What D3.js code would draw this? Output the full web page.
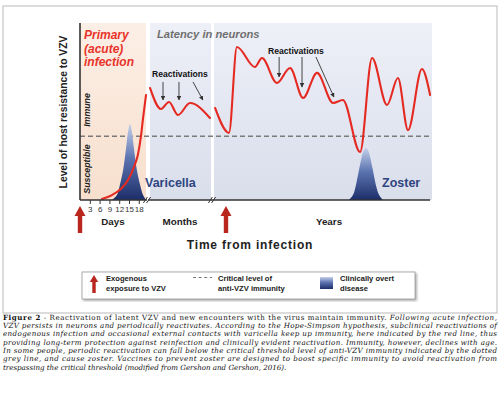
<!DOCTYPE html>
<html>
<head>
<meta charset="utf-8">
<script src="https://cdn.jsdelivr.net/npm/d3@7"></script>
<style>
  body { margin: 0; background: #fff; }
  svg { display: block; font-family: "Liberation Sans", Arial, sans-serif; }
</style>
</head>
<body>
<svg id="chart"></svg>
<script>
// ---- data (time in panel units, level = host resistance 0..100) ----
const dayTicks = [3, 6, 9, 12, 15, 18];
const phaseLabels = ["Days", "Months", "Years"];
const threshold = 36;

const primaryCurve = [[6.7, 0.6], [9.8, 2.8], [12.8, 6.8], [14.7, 11.3], [16.5, 18.6],
  [17.7, 25.4], [18.7, 36.7], [19.3, 46.3], [20.2, 59.3]];
const monthsCurve = [[0, 63.3], [2.16, 51.4], [3.74, 55.4], [5.51, 48.0], [7.87, 54.8], [11.8, 46.3]];
const yearsCurve = [[0.4, 52.0], [5.5, 37.9], [8.4, 86.4], [15.0, 75.1], [17.6, 80.2], [23.1, 66.1],
  [27.9, 74.6], [32.7, 57.6], [37.8, 71.8], [43.7, 54.8], [47.3, 56.5], [53.6, 27.1], [58.0, 80.2],
  [63.5, 53.7], [67.5, 68.9], [71.2, 39.5], [76.3, 74.0], [79.3, 59.3]];

const varicellaBell = [[9.8, 0], [11.3, 2.8], [12.2, 8.5], [13.2, 16.9], [14.1, 29.4], [14.7, 38.4],
  [15.3, 42.9], [15.9, 38.4], [16.5, 29.4], [17.4, 16.9], [18.4, 8.5], [19.3, 2.8], [20.2, 0]];
const zosterBell = [[49.5, 0], [51.0, 2.8], [52.1, 8.5], [53.2, 16.9], [54.3, 24.9], [55.0, 28.2],
  [55.8, 29.4], [56.5, 28.2], [57.2, 24.9], [58.3, 16.9], [59.4, 8.5], [60.6, 2.8], [62.0, 0]];

// reactivation arrows [t0, level0, t1, level1]
const monthArrows = [[2.56, 66.7, 2.56, 56.5], [5.7, 66.7, 5.7, 56.5], [8.46, 66.7, 10.4, 56.5]];
const yearArrows = [[23.9, 80.8, 23.9, 69.5], [32.3, 80.8, 32.3, 63.8], [37.4, 80.8, 44.0, 58.2]];
// exposure arrows: [panel, time]
const exposures = [["days", 0], ["years", 4.4]];

const legendItems = ["Exogenous|exposure to VZV", "Critical level of|anti-VZV immunity", "Clinically overt|disease"];

const captionLines = [
  [["b", "Figure 2"], ["r", " - Reactivation of latent VZV and new encounters with the virus maintain immunity. "], ["i", "Following acute infection,"]],
  [["i", "VZV persists in neurons and periodically reactivates. According to the Hope-Simpson hypothesis, subclinical reactivations of"]],
  [["i", "endogenous infection and occasional external contacts with varicella keep up immunity, here indicated by the red line, thus"]],
  [["i", "providing long-term protection against reinfection and clinically evident reactivation. Immunity, however, declines with age."]],
  [["i", "In some people, periodic reactivation can fall below the critical threshold level of anti-VZV immunity indicated by the dotted"]],
  [["i", "grey line, and cause zoster. Vaccines to prevent zoster are designed to boost specific immunity to avoid reactivation from"]],
  [["i", "trespassing the critical threshold (modified from Gershon and Gershon, 2016)."]]
];

// ---- layout ----
const width = 502, height = 397;
const svg = d3.select("#chart").attr("width", width).attr("height", height);

const y = d3.scaleLinear().domain([0, 100]).range([200, 23]);
const xDay = d3.scaleLinear().domain([0, 20.2]).range([80, 146]);
const xMonth = d3.scaleLinear().domain([0, 12]).range([150, 211]);
const xYear = d3.scaleLinear().domain([0, 80]).range([214, 432]);
const xs = { days: xDay, months: xMonth, years: xYear };

const defs = svg.append("defs");
function vGrad(id, stops) {
  const g = defs.append("linearGradient").attr("id", id).attr("x1", 0).attr("y1", 0).attr("x2", 0).attr("y2", 1);
  stops.forEach(([o, c]) => g.append("stop").attr("offset", o).attr("stop-color", c));
}
vGrad("peach", [[0, "#fcefe6"], [1, "#f7dfcd"]]);
vGrad("blueBg", [[0, "#eef0f8"], [1, "#d9deeb"]]);
vGrad("bell", [[0, "#c4cfea"], [0.45, "#5c74b0"], [1, "#1c2e6a"]]);
defs.append("filter").attr("id", "shadow").append("feDropShadow")
  .attr("dx", 1.5).attr("dy", 1.5).attr("stdDeviation", 1).attr("flood-color", "#888").attr("flood-opacity", 0.7);
defs.append("marker").attr("id", "ah").attr("viewBox", "0 0 10 10").attr("refX", 9).attr("refY", 5)
  .attr("markerWidth", 5).attr("markerHeight", 5).attr("orient", "auto-start-reverse")
  .append("path").attr("d", "M0,0L10,5L0,10z").attr("fill", "#333");

// outer frame
svg.append("rect").attr("x", 3).attr("y", 6).attr("width", 494).attr("height", 307)
  .attr("fill", "#fff").attr("stroke", "#c9c9c9").attr("stroke-width", 1.3);

// panels
svg.append("rect").attr("x", xDay(0)).attr("y", y(100)).attr("width", xDay(20.2) - xDay(0))
  .attr("height", y(0) - y(100)).attr("fill", "url(#peach)");
svg.append("rect").attr("x", xMonth(0)).attr("y", y(100)).attr("width", xMonth(12) - xMonth(0))
  .attr("height", y(0) - y(100)).attr("fill", "url(#blueBg)");
svg.append("rect").attr("x", xYear(0)).attr("y", y(100)).attr("width", xYear(80) - xYear(0))
  .attr("height", y(0) - y(100)).attr("fill", "url(#blueBg)");

// threshold
svg.append("line").attr("x1", xDay(0)).attr("x2", xYear(80)).attr("y1", y(threshold)).attr("y2", y(threshold))
  .attr("stroke", "#7a7a7a").attr("stroke-width", 1.4).attr("stroke-dasharray", "5,3");

// bells
const area = (xsc) => d3.area().x(d => xsc(d[0])).y0(y(0)).y1(d => y(d[1])).curve(d3.curveCatmullRom);
svg.append("path").datum(varicellaBell).attr("d", area(xDay)).attr("fill", "url(#bell)");
svg.append("path").datum(zosterBell).attr("d", area(xYear)).attr("fill", "url(#bell)");

// red resistance line
const line = (xsc) => d3.line().x(d => xsc(d[0])).y(d => y(d[1])).curve(d3.curveMonotoneX);
[[primaryCurve, xDay], [monthsCurve, xMonth], [yearsCurve, xYear]].forEach(([data, xsc]) => {
  svg.append("path").datum(data).attr("d", line(xsc)).attr("fill", "none")
    .attr("stroke", "#e52a22").attr("stroke-width", 2.1).attr("stroke-linecap", "round");
});

// axes
svg.append("line").attr("x1", 80).attr("x2", 80).attr("y1", y(100)).attr("y2", y(0))
  .attr("stroke", "#333").attr("stroke-width", 1.6);
[[xDay, 0, 20.2], [xMonth, 0, 12], [xYear, 0, 79.3]].forEach(([xsc, a, b], i) => {
  svg.append("line").attr("x1", i ? xsc(a) - 2 : xsc(a)).attr("x2", xsc(b) + (i < 2 ? 1 : 0))
    .attr("y1", 200).attr("y2", 200).attr("stroke", "#333").attr("stroke-width", 1.6);
});
[147, 212].forEach(bx => {
  [-1.6, 1.6].forEach(o => svg.append("line").attr("x1", bx + o - 2).attr("x2", bx + o + 2)
    .attr("y1", 203).attr("y2", 197).attr("stroke", "#333").attr("stroke-width", 1));
});

svg.append("g").attr("transform", "translate(0,200)")
  .call(d3.axisBottom(xDay).tickValues(dayTicks).tickSize(4).tickPadding(2))
  .call(g => g.select(".domain").remove())
  .call(g => g.selectAll(".tick line").attr("stroke", "#333"))
  .call(g => g.selectAll(".tick text").attr("font-size", 8).attr("fill", "#333")
    .attr("font-family", "Liberation Sans, Arial, sans-serif"));

const phaseX = [113, 180, 329];
svg.append("g").selectAll("text").data(phaseLabels).join("text")
  .attr("x", (d, i) => phaseX[i]).attr("y", 225).attr("text-anchor", "middle")
  .attr("font-size", 9.8).attr("font-weight", "bold").attr("fill", "#222").text(d => d);

svg.append("text").attr("x", 250).attr("y", 249).attr("text-anchor", "middle")
  .attr("font-size", 12).attr("font-weight", "bold").attr("letter-spacing", 0.8).attr("fill", "#222")
  .text("Time from infection");

svg.append("text").attr("transform", "translate(67,112) rotate(-90)").attr("text-anchor", "middle")
  .attr("font-size", 10.3).attr("font-weight", "bold").attr("fill", "#222")
  .text("Level of host resistance to VZV");

svg.append("text").attr("transform", "translate(90,110) rotate(-90)").attr("text-anchor", "middle")
  .attr("font-size", 8.8).attr("font-weight", "bold").attr("font-style", "italic").attr("fill", "#222").text("Immune");
svg.append("text").attr("transform", "translate(90,169) rotate(-90)").attr("text-anchor", "middle")
  .attr("font-size", 8.8).attr("font-weight", "bold").attr("font-style", "italic").attr("fill", "#222").text("Susceptible");

// panel titles
const prim = svg.append("text").attr("font-size", 12).attr("font-weight", "bold").attr("font-style", "italic")
  .attr("fill", "#e8332a");
["Primary", "(acute)", "infection"].forEach((t, i) => prim.append("tspan").attr("x", 84).attr("y", 39 + i * 13.5).text(t));
svg.append("text").attr("x", 157).attr("y", 38).attr("font-size", 11.2).attr("font-weight", "bold")
  .attr("font-style", "italic").attr("fill", "#6f6f6f").text("Latency in neurons");

svg.append("text").attr("x", 152).attr("y", 76.5).attr("font-size", 8.6).attr("font-weight", "bold")
  .attr("fill", "#111").text("Reactivations");
svg.append("text").attr("x", 268).attr("y", 53.5).attr("font-size", 8.6).attr("font-weight", "bold")
  .attr("fill", "#111").text("Reactivations");

[[monthArrows, xMonth], [yearArrows, xYear]].forEach(([data, xsc]) => {
  svg.append("g").selectAll("line").data(data).join("line")
    .attr("x1", d => xsc(d[0])).attr("y1", d => y(d[1])).attr("x2", d => xsc(d[2])).attr("y2", d => y(d[3]))
    .attr("stroke", "#333").attr("stroke-width", 0.9).attr("marker-end", "url(#ah)");
});

svg.append("text").attr("x", 145).attr("y", 187).attr("font-size", 12.5).attr("font-weight", "bold")
  .attr("fill", "#2f4580").text("Varicella");
svg.append("text").attr("x", 382).attr("y", 187).attr("font-size", 12.5).attr("font-weight", "bold")
  .attr("fill", "#2f4580").text("Zoster");

// red exposure arrows
function redArrow(g, cx, top, bottom, sw, hw, hh) {
  g.append("path").attr("fill", "#b8261e")
    .attr("d", `M${cx},${top}L${cx + hw},${top + hh}L${cx + sw},${top + hh}L${cx + sw},${bottom}` +
      `L${cx - sw},${bottom}L${cx - sw},${top + hh}L${cx - hw},${top + hh}Z`);
}
exposures.forEach(([p, t]) => redArrow(svg, xs[p](t), 206, 233, 2.2, 5.5, 10));

// legend
const lg = svg.append("g");
lg.append("rect").attr("x", 82).attr("y", 272).attr("width", 333).attr("height", 27)
  .attr("fill", "#fff").attr("stroke", "#9a9a9a").attr("stroke-width", 0.8).attr("filter", "url(#shadow)");
const legX = [106, 218, 340];
lg.selectAll("text.leg").data(legendItems).join("text").attr("class", "leg")
  .attr("font-size", 7.6).attr("font-weight", "bold").attr("fill", "#222")
  .each(function (d, i) {
    d.split("|").forEach((t, j) => d3.select(this).append("tspan").attr("x", legX[i]).attr("y", 280.5 + j * 10.5).text(t));
  });
redArrow(lg, 94, 275, 293, 1.7, 4.2, 7);
lg.append("line").attr("x1", 193).attr("x2", 212).attr("y1", 277.5).attr("y2", 277.5)
  .attr("stroke", "#777").attr("stroke-width", 1.2).attr("stroke-dasharray", "3,2.6");
lg.append("rect").attr("x", 320).attr("y", 277).attr("width", 13).attr("height", 12).attr("fill", "url(#bell)");

// caption
const cap = svg.append("g").attr("font-family", "'DejaVu Serif', 'Liberation Serif', serif").attr("font-size", 7.1).attr("fill", "#111");
captionLines.forEach((parts, i) => {
  const t = cap.append("text").attr("x", 3).attr("y", 319.5 + i * 8.35);
  if (i < captionLines.length - 1) t.attr("textLength", 494).attr("lengthAdjust", "spacing");
  parts.forEach(([s, str]) => t.append("tspan")
    .attr("font-weight", s === "b" ? "bold" : "normal")
    .attr("font-style", s === "i" ? "italic" : "normal").text(str));
});
</script>
</body>
</html>
